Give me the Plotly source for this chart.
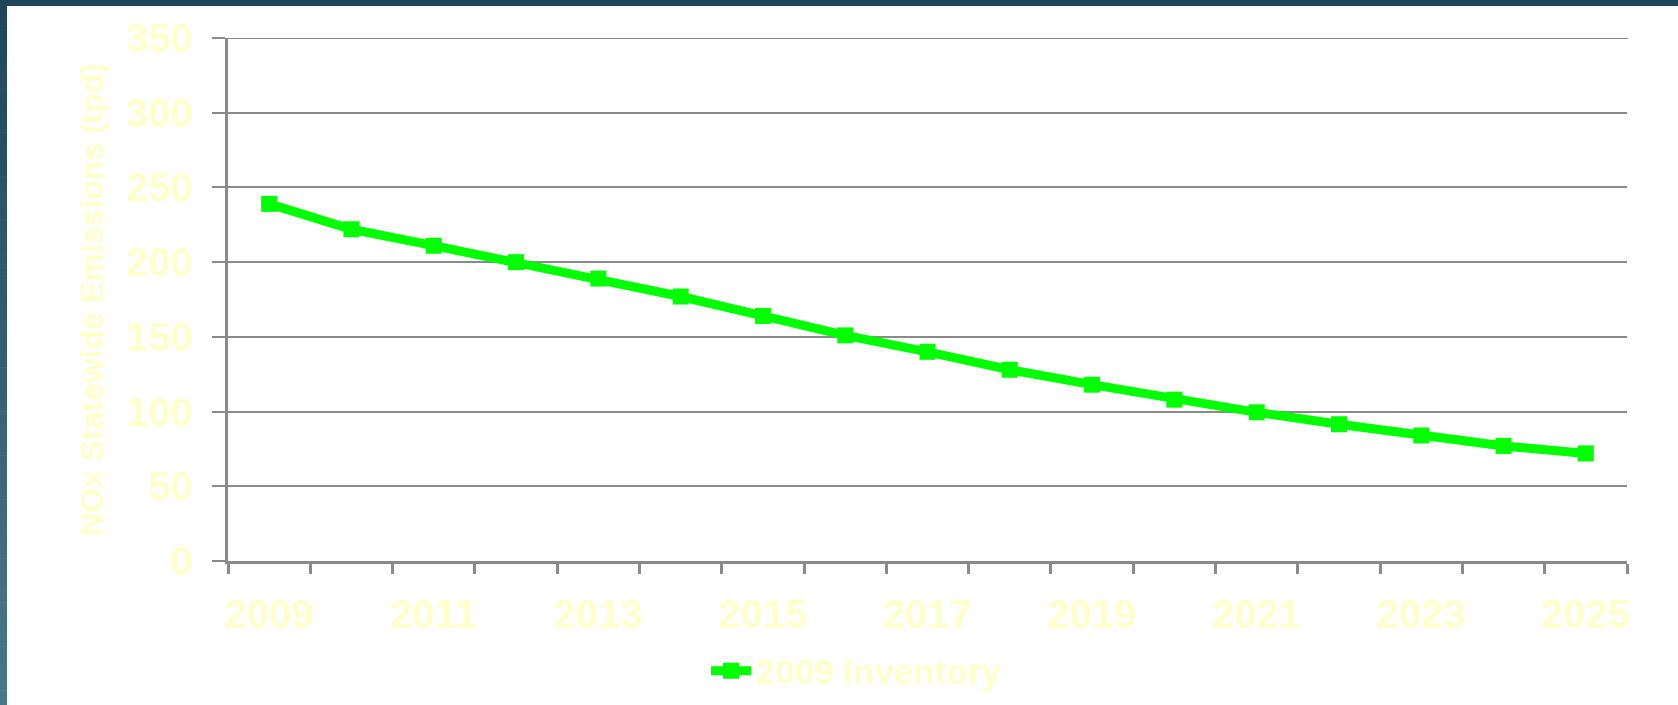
import plotly.graph_objects as go

# NOx statewide emissions projection, tons per day
years = list(range(2009, 2026))
nox_tpd = [239, 222, 211, 200, 189, 177, 164, 151, 140, 128, 118, 108, 99.5, 91.5, 84, 77, 72]
series_name = "2009 Inventory"
y_title = "NOx Statewide Emissions (tpd)"
label_years = list(range(2009, 2026, 2))
y_max = 350

W, H = 1678, 705
L, R, T, B = 228, 51, 38, 144
PW, PH = W - L - R, H - T - B

TEXT = "#ffffcc"
GRID = "#8a8a8a"
GREEN = "#00ff00"
FONT = "Liberation Sans, Arial, sans-serif"


def px_x(px):
    return (px - L) / PW


def px_y(py):
    return (H - B - py) / PH


fig = go.Figure()
fig.add_trace(go.Scatter(
    x=years, y=nox_tpd, name=series_name, mode="lines+markers",
    line=dict(color=GREEN, width=9),
    marker=dict(symbol="square", size=16, color=GREEN),
    showlegend=True,
))

# gridline along the top of the value range
shapes = [dict(type="line", xref="paper", yref="y", x0=px_x(215), x1=1.001,
               y0=y_max, y1=y_max, line=dict(color=GRID, width=2), layer="below")]

# dark frame: band along the top and a shaded band down the left edge
shapes.append(dict(type="rect", xref="paper", yref="paper",
                   x0=px_x(0), x1=px_x(W), y0=px_y(6), y1=px_y(0),
                   fillcolor="#1f465a", line=dict(width=0), layer="above"))
top_c = (0x1f, 0x46, 0x5a)
bot_c = (0x4a, 0x77, 0x86)
n = 48
for i in range(n):
    t = i / (n - 1)
    c = tuple(round(a + (b - a) * t) for a, b in zip(top_c, bot_c))
    y0 = H * i / n
    y1 = H * (i + 1) / n + 0.5
    shapes.append(dict(type="rect", xref="paper", yref="paper",
                       x0=px_x(0), x1=px_x(7), y0=px_y(y1), y1=px_y(y0),
                       fillcolor="rgb(%d,%d,%d)" % c, line=dict(width=0),
                       layer="above"))

fig.update_layout(
    width=W, height=H,
    margin=dict(l=L, r=R, t=T, b=B, pad=0, autoexpand=False),
    paper_bgcolor="white", plot_bgcolor="white",
    font=dict(family=FONT, color=TEXT, size=38, weight="bold"),
    shapes=shapes,
    legend=dict(orientation="h", x=px_x(706), xanchor="left",
                y=px_y(671), yanchor="middle",
                font=dict(size=35, color=TEXT, family=FONT, weight="bold"),
                bgcolor="rgba(0,0,0,0)", itemwidth=40),
    xaxis=dict(
        type="linear", range=[2008.5, 2025.5],
        tickmode="array", tickvals=label_years,
        ticktext=[str(y) for y in label_years],
        ticks="", ticklabelstandoff=16,
        tickfont=dict(size=40, color=TEXT, family=FONT, weight="bold"),
        showgrid=False, zeroline=False,
        showline=True, linecolor=GRID, linewidth=3,
        minor=dict(tick0=2008.5, dtick=1, ticks="outside", ticklen=10,
                   tickwidth=3, tickcolor=GRID, showgrid=False),
    ),
    yaxis=dict(
        range=[0, y_max], tickmode="linear", tick0=0, dtick=50,
        ticks="outside", ticklen=13, tickwidth=2, tickcolor=GRID,
        ticklabelstandoff=11,
        tickfont=dict(size=40, color=TEXT, family=FONT, weight="bold"),
        showgrid=True, gridcolor=GRID, gridwidth=2,
        zeroline=False,
        showline=True, linecolor=GRID, linewidth=3,
        title=dict(text=y_title, standoff=14,
                   font=dict(size=32, color=TEXT, family=FONT, weight="bold")),
    ),
)

fig.write_html("out.html")
